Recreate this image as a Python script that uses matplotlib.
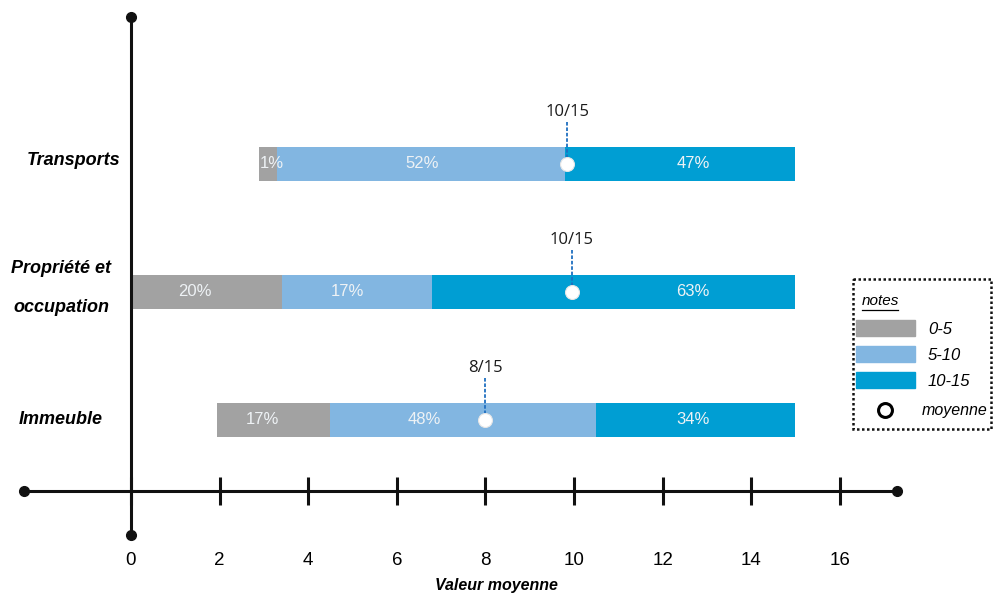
import matplotlib.pyplot as plt
from matplotlib.patches import Rectangle

plt.rcParams["font.family"] = ["Liberation Sans", "DejaVu Sans"]

# donnees (de bas en haut)
categories = ["Immeuble", "Propriété et\noccupation", "Transports"]
seg_start = [1.95, 0.0, 2.9]
seg_gray_end = [4.5, 3.4, 3.3]
seg_light_end = [10.5, 6.8, 9.8]
seg_dark_end = [15.0, 15.0, 15.0]
pct_gray = ["17%", "20%", "1%"]
pct_light = ["48%", "17%", "52%"]
pct_dark = ["34%", "63%", "47%"]
means = [8.0, 9.95, 9.85]
mean_labels = ["8/15", "10/15", "10/15"]
xticks = [0, 2, 4, 6, 8, 10, 12, 14, 16]
legend_labels = ["0-5", "5-10", "10-15"]

# positions des etiquettes
pct_gray_x = [2.96, 1.44, 3.18]
pct_light_x = [6.61, 4.88, 6.57]
pct_dark_x = [12.69, 12.69, 12.69]
cat_x = [-1.58, -1.58, -1.29]
cat_dy = [0.0, 0.03, 0.03]

c_gray = "#a2a2a2"
c_light = "#82b6e1"
c_dark = "#009ed3"
c_pct = "#eef2f5"

fig = plt.figure(figsize=(9.95, 5.99), dpi=100)
ax = fig.add_axes([0, 0, 1, 1])
ax.set_xlim(-131 / 44.3, 864 / 44.3)
ax.set_ylim(-179 / 128, 420 / 128)

y = list(range(len(categories)))
h = 0.272
gw = [g - s for g, s in zip(seg_gray_end, seg_start)]
lw = [l - g for l, g in zip(seg_light_end, seg_gray_end)]
dw = [d - l for d, l in zip(seg_dark_end, seg_light_end)]
ax.barh(y, gw, left=seg_start, height=h, color=c_gray, zorder=2)
ax.barh(y, lw, left=seg_gray_end, height=h, color=c_light, zorder=2)
ax.barh(y, dw, left=seg_light_end, height=h, color=c_dark, zorder=2)

for i in y:
    ax.text(pct_gray_x[i], i, pct_gray[i], color=c_pct, fontsize=12,
            ha="center", va="center", zorder=3)
    ax.text(pct_light_x[i], i, pct_light[i], color=c_pct, fontsize=12,
            ha="center", va="center", zorder=3)
    ax.text(pct_dark_x[i], i, pct_dark[i], color=c_pct, fontsize=12,
            ha="center", va="center", zorder=3)
    ax.plot([means[i], means[i]], [i + 0.33, i], color="#1f6fc0", lw=1.3,
            ls=(0, (2, 1)), zorder=3)
    ax.text(means[i], i + 0.41, mean_labels[i], fontsize=12, color="#1a1a1a",
            family=["Open Sans", "DejaVu Sans"], ha="center", va="center")
    ax.text(cat_x[i], i + cat_dy[i], categories[i], fontsize=13,
            fontweight="bold", style="italic", ha="center", va="center",
            linespacing=2.65)

ax.plot(means, y, "o", ms=10, mfc="white", mec="#e6e6e6", mew=0.8, zorder=4)

# axes
for s in ["top", "right"]:
    ax.spines[s].set_visible(False)
ax.spines["bottom"].set_position(("data", -0.555))
ax.spines["bottom"].set_bounds(-2.42, 17.3)
ax.spines["left"].set_position(("data", 0))
ax.spines["left"].set_bounds(-0.9, 3.15)
for s in ["bottom", "left"]:
    ax.spines[s].set_linewidth(2.2)
    ax.spines[s].set_color("#111111")
ax.set_yticks([])
ax.set_xticks(xticks)
ax.set_xticklabels([str(t) for t in xticks], fontsize=13.5)
ax.tick_params(axis="x", direction="inout", length=20, width=2.2,
               color="#111111", pad=34)
ax.plot([-2.42, 17.3], [-0.555, -0.555], "o", color="#111111", ms=7,
        clip_on=False, zorder=5)
ax.plot([0, 0], [-0.9, 3.15], "o", color="#111111", ms=7, clip_on=False,
        zorder=5)
ax.text(8.26, -1.29, "Valeur moyenne", fontsize=11.5, fontweight="bold",
        style="italic", ha="center", va="center")

# legende
lax = fig.add_axes([852 / 995, 1 - 430 / 599, 140 / 995, 152 / 599])
lax.set_xlim(852, 992)
lax.set_ylim(430, 278)
lax.axis("off")
lax.add_patch(Rectangle((853, 279), 138, 150, fill=False, ec="#111111",
                        lw=1.8, ls=(0, (1, 1)), clip_on=False))
lax.text(862, 301, "notes", fontsize=11, style="italic", va="center")
lax.plot([862, 898], [310, 310], color="k", lw=0.9)
for j, (c, lab) in enumerate(zip([c_gray, c_light, c_dark], legend_labels)):
    top = 320 + j * 26
    lax.add_patch(Rectangle((856, top), 59, 16, color=c))
    lax.text(928, top + 9, lab, fontsize=12, style="italic", va="center")
lax.plot([885], [410], "o", ms=10, mfc="white", mec="k", mew=2.2)
lax.text(922, 410, "moyenne", fontsize=11.5, style="italic", va="center")

fig.savefig("out.png", dpi=100)
